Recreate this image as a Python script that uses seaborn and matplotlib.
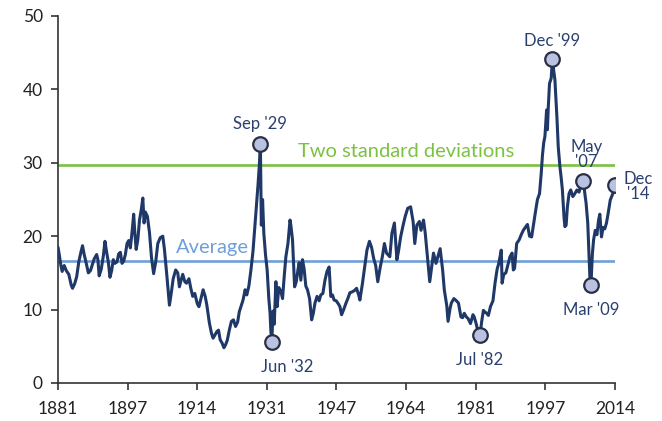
import matplotlib
matplotlib.use("Agg")
import matplotlib.pyplot as plt
import seaborn as sns
import pandas as pd
import numpy as np

# ---- data ----
years = [1881.0, 1881.3, 1881.7, 1882.0, 1882.5, 1883.0, 1883.6, 1884.2, 1884.5, 1885.0,
         1885.5, 1886.0, 1886.5, 1886.9, 1887.3, 1887.8, 1888.3, 1888.8, 1889.2, 1889.7,
         1890.3, 1890.6, 1890.9, 1891.4, 1891.9, 1892.3, 1892.7, 1893.1, 1893.5, 1893.9,
         1894.3, 1894.7, 1895.2, 1895.6, 1896.0, 1896.4, 1896.8, 1897.2, 1897.6, 1898.0,
         1898.4, 1898.8, 1899.2, 1899.5, 1899.8, 1900.2, 1900.6, 1901.0, 1901.4, 1901.7,
         1902.0, 1902.5, 1903.0, 1903.5, 1904.0, 1904.5, 1905.0, 1905.6, 1906.2, 1906.6,
         1907.2, 1907.8, 1908.3, 1908.7, 1909.3, 1909.8, 1910.2, 1910.6, 1911.0, 1911.5,
         1911.9, 1912.5, 1912.9, 1913.4, 1913.9, 1914.5, 1914.9, 1915.3, 1915.9, 1916.4,
         1916.8, 1917.4, 1917.9, 1918.3, 1918.8, 1919.2, 1919.6, 1920.0, 1920.5, 1920.9,
         1921.3, 1921.7, 1922.2, 1922.7, 1923.2, 1923.7, 1924.2, 1924.6, 1925.0, 1925.5,
         1926.0, 1926.4, 1926.9, 1927.4, 1927.9, 1928.3, 1928.7, 1929.1, 1929.4, 1929.67,
         1929.9, 1930.2, 1930.5, 1930.9, 1931.3, 1931.7, 1932.0, 1932.2, 1932.42, 1932.7,
         1933.0, 1933.4, 1933.7, 1934.1, 1934.6, 1935.0, 1935.4, 1935.8, 1936.3, 1936.8,
         1937.0, 1937.4, 1937.9, 1938.3, 1938.7, 1939.0, 1939.4, 1939.8, 1940.2, 1940.6,
         1941.0, 1941.5, 1942.0, 1942.4, 1942.8, 1943.3, 1943.8, 1944.2, 1944.7, 1945.2,
         1945.7, 1946.2, 1946.6, 1947.0, 1947.4, 1947.9, 1948.4, 1948.8, 1949.2, 1949.7,
         1950.2, 1950.7, 1951.2, 1951.7, 1952.3, 1952.8, 1953.3, 1953.6, 1954.2, 1954.8,
         1955.3, 1955.9, 1956.4, 1956.9, 1957.4, 1957.9, 1958.5, 1959.0, 1959.5, 1960.0,
         1960.8, 1961.3, 1961.9, 1962.5, 1962.9, 1963.4, 1964.0, 1964.5, 1965.1, 1965.8,
         1966.4, 1966.8, 1967.3, 1967.9, 1968.3, 1968.9, 1969.3, 1969.7, 1970.4, 1970.9,
         1971.3, 1971.9, 1972.5, 1972.9, 1973.5, 1973.9, 1974.5, 1974.8, 1975.3, 1975.6,
         1976.2, 1976.8, 1977.3, 1977.9, 1978.3, 1978.7, 1979.2, 1979.6, 1980.2, 1980.8,
         1981.1, 1981.6, 1981.9, 1982.2, 1982.5, 1982.9, 1983.3, 1983.6, 1984.1, 1984.5,
         1985.0, 1985.6, 1986.1, 1986.6, 1987.0, 1987.6, 1987.8, 1988.2, 1988.7, 1989.3,
         1989.7, 1990.2, 1990.5, 1990.8, 1991.3, 1991.9, 1992.4, 1992.9, 1993.5, 1993.9,
         1994.4, 1994.9, 1995.4, 1995.9, 1996.3, 1996.8, 1997.2, 1997.5, 1997.8, 1998.1,
         1998.5, 1998.7, 1998.9, 1999.2, 1999.6, 1999.92, 2000.2, 2000.5, 2000.8, 2001.0,
         2001.3, 2001.7, 2002.0, 2002.3, 2002.7, 2002.9, 2003.2, 2003.5, 2003.9, 2004.3,
         2004.8, 2005.3, 2005.8, 2006.3, 2006.8, 2007.35, 2007.7, 2008.0, 2008.4, 2008.7,
         2008.9, 2009.17, 2009.5, 2009.8, 2010.2, 2010.6, 2011.0, 2011.3, 2011.7, 2012.1,
         2012.5, 2012.9, 2013.3, 2013.8, 2014.3, 2014.7, 2014.92]
cape = [18.5, 17.5, 16.0, 15.2, 16.0, 15.3, 14.8, 13.3, 12.9, 13.5,
        14.5, 16.5, 17.8, 18.7, 17.5, 16.3, 15.0, 15.3, 16.0, 16.9,
        17.5, 16.8, 14.6, 15.5, 17.3, 19.3, 17.8, 16.5, 14.4, 15.3,
        16.8, 16.3, 16.5, 17.6, 17.8, 16.3, 16.6, 17.5, 19.0, 19.4,
        18.4, 20.5, 23.0, 20.3, 18.2, 19.5, 22.2, 23.5, 25.2, 21.8,
        23.3, 22.7, 20.5, 17.0, 14.9, 16.5, 19.0, 19.8, 20.0, 18.2,
        14.5, 10.6, 12.5, 14.2, 15.4, 15.0, 13.1, 14.0, 14.8, 13.8,
        13.6, 14.2, 13.0, 11.8, 12.2, 10.8, 10.4, 11.3, 12.7, 11.8,
        10.6, 8.2, 6.8, 6.1, 6.6, 7.0, 7.2, 5.9, 5.4, 4.8,
        5.2, 5.8, 7.2, 8.4, 8.6, 7.7, 8.3, 9.7, 10.4, 11.3,
        12.7, 12.0, 13.2, 15.4, 18.0, 21.0, 23.8, 27.0, 29.5, 32.6,
        21.5, 25.0, 20.4, 17.5, 15.4, 11.5, 9.5, 7.0, 5.6, 9.8,
        8.0, 13.8, 10.4, 13.0, 12.5, 11.5, 14.5, 17.2, 19.0, 22.2,
        21.5, 19.5, 13.1, 13.8, 15.4, 16.4, 14.0, 16.8, 15.5, 13.2,
        12.7, 11.5, 8.6, 9.5, 10.9, 11.8, 11.2, 12.0, 12.2, 14.0,
        15.2, 15.8, 11.8, 12.0, 11.3, 11.2, 10.8, 10.4, 9.3, 10.0,
        10.8, 11.5, 12.3, 12.4, 12.6, 12.9, 12.0, 11.3, 13.5, 16.0,
        18.1, 19.3, 18.5, 17.0, 16.0, 13.8, 15.8, 17.2, 19.0, 17.7,
        17.2, 20.4, 21.8, 16.8, 18.0, 19.9, 21.5, 22.7, 23.8, 24.0,
        22.0, 19.0, 21.5, 22.0, 20.8, 22.2, 20.5, 18.1, 13.8, 16.0,
        17.7, 16.3, 17.5, 18.3, 15.4, 12.7, 10.5, 8.4, 10.2, 10.9,
        11.5, 11.2, 10.9, 9.0, 8.9, 9.5, 9.0, 8.8, 8.1, 9.3,
        9.0, 8.0, 7.2, 7.4, 6.6, 8.4, 9.9, 9.7, 9.5, 9.2,
        10.4, 11.2, 13.6, 15.5, 16.3, 18.1, 13.6, 14.8, 15.0, 16.3,
        17.2, 17.7, 15.4, 15.6, 19.0, 19.5, 20.2, 20.8, 21.3, 21.6,
        20.0, 19.9, 21.8, 23.6, 25.0, 25.8, 28.5, 31.0, 32.7, 33.6,
        37.2, 34.5, 37.5, 40.8, 41.5, 44.2, 42.6, 41.3, 38.0, 36.0,
        32.2, 29.5, 28.0, 26.3, 22.5, 21.3, 21.5, 24.0, 25.8, 26.3,
        25.4, 25.8, 26.3, 26.0, 27.0, 27.5, 25.8, 24.5, 21.8, 17.2,
        14.5, 13.3, 17.5, 19.5, 20.8, 20.2, 22.2, 23.0, 19.9, 21.2,
        21.0, 21.8, 23.1, 24.9, 25.6, 26.2, 27.0]

average = 16.6
two_std = 29.7

highlight_labels = ["Sep '29", "Jun '32", "Jul '82", "Dec '99", "May\n'07", "Mar '09", "Dec\n'14"]
highlight_years = [1929.67, 1932.42, 1982.5, 1999.92, 2007.35, 2009.17, 2014.92]
highlight_values = [32.6, 5.6, 6.6, 44.2, 27.5, 13.3, 27.0]

tick_labels = ["1881", "1897", "1914", "1931", "1947", "1964", "1981", "1997", "2014"]

# ---- styling ----
sns.set_style("white")
plt.rcParams['font.family'] = ['Lato', 'DejaVu Sans']

navy = "#1f3867"
green = "#7cc242"
blue = "#6f9fd8"
label_col = "#2b3f6e"

fig = plt.figure(figsize=(6.62, 4.21), dpi=100)
ax = fig.add_axes([0.0876, 0.0903, 0.8414, 0.8717])

ax.axhline(average, color=blue, lw=1.9, zorder=1)
ax.axhline(two_std, color=green, lw=1.9, zorder=1)

df = pd.DataFrame({"year": years, "cape": cape})
sns.lineplot(data=df, x="year", y="cape", ax=ax, color=navy, lw=2.2,
             sort=False, estimator=None, zorder=3)

hl = pd.DataFrame({"year": highlight_years, "cape": highlight_values})
sns.scatterplot(data=hl, x="year", y="cape", ax=ax, s=110, color="#b9c3e1",
                edgecolor="#2a2f45", linewidth=1.6, zorder=4)

offsets = [(0, 14), (11, -18), (0, -18), (0, 13), (2, 19), (0, -18), (17, -1)]
for lab, x, y, (dx, dy) in zip(highlight_labels, highlight_years, highlight_values, offsets):
    ax.annotate(lab, (x, y), xytext=(dx, dy), textcoords="offset points",
                ha="center", va="center", fontsize=12, color=label_col,
                linespacing=0.95, annotation_clip=False)

ax.text(1938.7, 31.5, "Two standard deviations", color=green, fontsize=14.5,
        va="center", ha="left")
ax.text(1909.4, 18.4, "Average", color=blue, fontsize=14.5, va="center", ha="left")

xmin, xmax = 1881.0, 2014.95
ax.set_xlim(xmin, xmax)
ax.set_ylim(0, 50)
ax.set_xticks(np.linspace(xmin, xmax, len(tick_labels)))
ax.set_xticklabels(tick_labels)
ax.set_yticks(range(0, 51, 10))
ax.tick_params(axis="both", direction="out", length=5, width=1.2, color="#333333",
               labelsize=12.5, labelcolor="#222222", pad=6)
ax.tick_params(axis="x", pad=8)
ax.tick_params(left=True, bottom=True)
for s in ["top", "right"]:
    ax.spines[s].set_visible(False)
for s in ["left", "bottom"]:
    ax.spines[s].set_color("#333333")
    ax.spines[s].set_linewidth(1.2)
ax.set_xlabel("")
ax.set_ylabel("")

fig.savefig("out.png", dpi=100)
